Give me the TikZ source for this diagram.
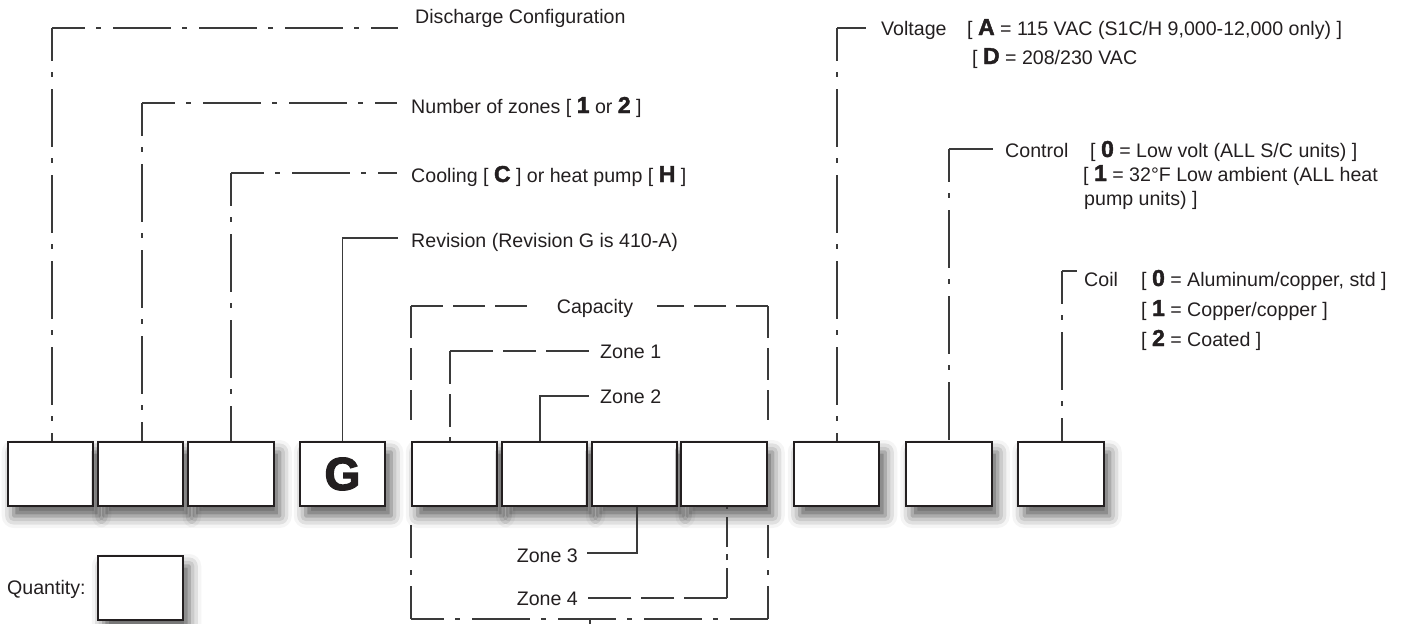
\documentclass[tikz,border=0pt]{standalone}
\usepackage{fontspec}
\setmainfont{Liberation Sans}
\newfontfamily\heavyfont[FakeBold=1.8]{Liberation Sans Bold}
\newfontfamily\gfont[FakeBold=3]{Liberation Sans Bold}
\usetikzlibrary{shadows.blur}
\definecolor{ink}{HTML}{231F20}
\definecolor{lead}{HTML}{3A3A3A}
\newcommand\hvy[1]{{\heavyfont\fontsize{23}{23}\selectfont #1}}
\begin{document}
\begin{tikzpicture}[x=1pt,y=-1pt,
  box/.style={draw=ink, line width=2.2pt, fill=white, minimum width=85.5pt, minimum height=64pt, inner sep=0pt,
    blur shadow={shadow xshift=6pt, shadow yshift=-10pt, shadow blur radius=12pt, shadow opacity=65}},
  lbl/.style={anchor=base west, inner sep=0pt, text=ink, font=\fontsize{19.6}{23}\selectfont},
  lblr/.style={lbl, anchor=base east},
  lblc/.style={lbl, anchor=base},
  ldr/.style={draw=lead, line width=1.3pt},
  dd/.style={ldr, dash pattern=on 58pt off 11pt on 5pt off 12pt, dash phase=25pt},
  dsh/.style={ldr, dash pattern=on 33pt off 10pt},
]
\useasboundingbox (0,0) rectangle (1409,624);

% boxes
\foreach \n/\x in {b1/50.5, b2/140.5, b3/231, b5/454.5, b6/544.5, b7/634.5, b8/724, b9/836.5, b10/949, b11/1061}
  \node[box] (\n) at (\x,474) {};
\node[box, text=ink, font=\gfont\fontsize{46}{46}\selectfont] (b4) at (342.5,474) {G};
\node[box] (q) at (140.5,588) {};
\node[lbl] (qt) at (7,594) {Quantity:};

% left leaders
\node[lbl] (dc) at (415,23) {Discharge Configuration};
\coordinate (dcE) at (398,28);
\path ([xshift=1.5pt]b1.north) coordinate (dcB);
\coordinate (dcC) at (dcB |- dcE);
\draw[dd] (dcC) -- (dcB);
\draw[dd] (dcC) -- (dcE);

\node[lbl] (nz) at (411,113) {Number of zones [ \hvy{1} or \hvy{2} ]};
\coordinate (nzE) at (397,103);
\path ([xshift=1.5pt]b2.north) coordinate (nzB);
\coordinate (nzC) at (nzB |- nzE);
\draw[dd] (nzC) -- (nzB);
\draw[dd] (nzC) -- (nzE);

\node[lbl] (cl) at (411,182) {Cooling [ \hvy{C} ] or heat pump [ \hvy{H} ]};
\coordinate (clE) at (397,173);
\coordinate (clC) at (b3.north |- clE);
\draw[dd] (clC) -- (b3.north);
\draw[dd] (clC) -- (clE);

\node[lbl] (rv) at (411,247) {Revision (Revision G is 410-A)};
\coordinate (rvE) at (398,238);
\draw[ldr] (b4.north) |- (rvE);

% capacity bracket
\node[lblc] (cap) at (595,313) {Capacity};
\draw[ldr, dash pattern=on 32pt off 10pt] (411,306) -- (411,420);
\draw[ldr, dash pattern=on 32pt off 10pt] (411,306) -- (532,306);
\draw[ldr, dash pattern=on 32pt off 10pt] (768,306) -- (657,306);
\draw[ldr, dash pattern=on 32pt off 10pt] (768,306) -- (768,420);
\draw[dd] (411,619) -- (411,525);
\draw[dd] (768,619) -- (768,525);
\draw[dd] (411,619) -- (768,619);
\draw[ldr] (590,619) -- (590,630);

\node[lbl] (z1) at (600,358) {Zone 1};
\coordinate (z1E) at (589,351);
\path ([xshift=-4.5pt]b5.north) coordinate (z1B);
\coordinate (z1C) at (z1B |- z1E);
\draw[dsh] (z1C) -- (z1B);
\draw[dsh, dash pattern=on 43pt off 10pt on 33pt off 10pt] (z1C) -- (z1E);

\node[lbl] (z2) at (600,403) {Zone 2};
\coordinate (z2E) at (589,396);
\draw[ldr] ([xshift=-4.5pt]b6.north) |- (z2E);

\node[lblr] (z3) at (578,562) {Zone 3};
\coordinate (z3E) at (587,553);
\draw[ldr] ([xshift=2.5pt]b7.south) |- (z3E);

\node[lblr] (z4) at (578,605) {Zone 4};
\coordinate (z4E) at (587,598);
\path ([xshift=3pt]b8.south) coordinate (z4B);
\coordinate (z4C) at (z4B |- z4E);
\draw[ldr, dash pattern=on 30pt off 8pt on 6pt off 7pt] (z4C) -- (z4B);
\draw[dsh, dash pattern=on 43pt off 10pt on 33pt off 10pt] (z4C) -- (z4E);

% right leaders
\node[lbl] (vt) at (881,35) {Voltage};
\node[lbl] (vA) at (967,35) {[ \hvy{A} = 115 VAC (S1C/H 9,000-12,000 only) ]};
\node[lbl] (vD) at (972,64) {[ \hvy{D} = 208/230 VAC};
\coordinate (vtE) at (866,28);
\path ([xshift=0.5pt]b9.north) coordinate (vtB);
\coordinate (vtC) at (vtB |- vtE);
\draw[dd] (vtC) -- (vtB);
\draw[ldr] (vtC) -- (vtE);

\node[lbl] (ct) at (1005,157) {Control};
\node[lbl] (c0) at (1090,157) {[ \hvy{0} = Low volt (ALL S/C units) ]};
\node[lbl] (c1) at (1083,181) {[ \hvy{1} = 32°F Low ambient (ALL heat};
\node[lbl] (c2) at (1084,205) {pump units) ]};
\coordinate (ctE) at (993,149);
\coordinate (ctC) at (b10.north |- ctE);
\draw[dd] (ctC) -- (b10.north);
\draw[ldr] (ctC) -- (ctE);

\node[lbl] (co) at (1084,286) {Coil};
\node[lbl] (k0) at (1141,286) {[ \hvy{0} = Aluminum/copper, std ]};
\node[lbl] (k1) at (1141,316) {[ \hvy{1} = Copper/copper ]};
\node[lbl] (k2) at (1141,346) {[ \hvy{2} = Coated ]};
\coordinate (coE) at (1077,271);
\path ([xshift=1pt]b11.north) coordinate (coB);
\coordinate (coC) at (coB |- coE);
\draw[dd] (coC) -- (coB);
\draw[ldr] (coC) -- (coE);
\end{tikzpicture}
\end{document}
